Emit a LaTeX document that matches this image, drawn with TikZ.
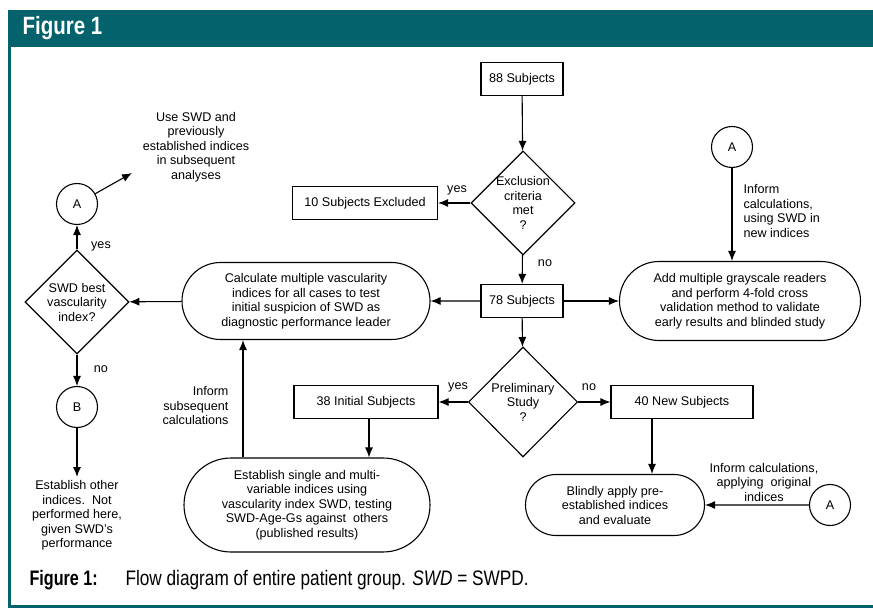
\documentclass[tikz,border=0pt]{standalone}
\usepackage{fontspec}
\setmainfont{Liberation Sans}
\newfontfamily\condfont[FakeStretch=0.82]{Liberation Sans}
\newfontfamily\condlabelfont[FakeStretch=0.77]{Liberation Sans}
\usetikzlibrary{shapes.geometric,shapes.misc,arrows.meta}
\definecolor{figteal}{HTML}{03626C}
\tikzset{>={Latex[length=10pt,width=8pt]}}

\begin{document}
\begin{tikzpicture}[x=1pt,y=-1pt,
  every node/.style={font=\fontsize{12.6}{14.5}\selectfont},
  box/.style={draw,line width=1.1pt,minimum height=33pt,inner sep=4pt},
  pill/.style={draw,line width=1.1pt,rounded rectangle,align=center,inner sep=2pt},
  decision/.style={draw,line width=1.1pt,diamond,minimum width=104pt,minimum height=104pt,
    align=center,inner sep=-3pt},
  conn/.style={draw,line width=1.1pt,circle,minimum size=41pt,inner sep=0pt},
  note/.style={align=center},
  line/.style={->,line width=1.1pt}]
  \useasboundingbox (0,0) rectangle (873,609);
  % frame and header
  \fill[figteal] (8,10) rectangle (873,47);
  \draw[figteal,line width=2.5pt] (9.5,47) -- (9.5,606.5) -- (873,606.5);
  \node[anchor=west,text=white,font=\condfont\bfseries\fontsize{25}{25}\selectfont] (title) at (19,28) {Figure 1};
  % main column
  \node[box,minimum width=82pt] (s88) at (522,79) {88 Subjects};
  \node[decision] (excl) at (523,203) {Exclusion\\criteria\\met\\?};
  \node[box,minimum width=145pt] (s10) at (365,203) {10 Subjects Excluded};
  \node[box,minimum width=82pt] (s78) at (522,301) {78 Subjects};
  \node[pill,minimum width=252pt,minimum height=77pt] (calc) at (306,301)
    {Calculate multiple vascularity\\indices for all cases to test\\initial suspicion of SWD as\\diagnostic performance leader};
  \node[pill,minimum width=245pt,minimum height=79pt] (readers) at (740,301)
    {Add multiple grayscale readers\\and perform 4-fold cross\\validation method to validate\\early results and blinded study};
  \node[conn] (aTop) at (732,147) {A};
  \node[anchor=west,align=left] (usingSWD) at (740,211) {Inform\\calculations,\\using SWD in\\new indices};
  \node (yesExcl) at (457,190) {yes};
  \node (noExcl) at (545,263) {no};
  % left column
  \node[decision,inner sep=-3pt] (best) at (77,302) {SWD best\\vascularity\\index?};
  \node[conn] (aLeft) at (77,204) {A};
  \node[conn] (bLeft) at (77,407) {B};
  \coordinate (useEnd) at (132,173);
  \node[note] (useSWD) at (196,147) {Use SWD and\\previously\\established indices\\in subsequent\\analyses};
  \node[note,anchor=north] (other) at (77,477) {Establish other\\indices.\ \ Not\\performed here,\\given SWD's\\performance};
  \node (yesBest) at (101,246) {yes};
  \node (noBest) at (101,369) {no};
  % lower part
  \node[decision,minimum width=109pt,minimum height=110pt] (prelim) at (523,402) {Preliminary\\Study\\?};
  \node[box,minimum width=144pt] (s38) at (366,402) {38 Initial Subjects};
  \node[box,minimum width=142pt] (s40) at (682,402) {40 New Subjects};
  \node (yesPre) at (458,387) {yes};
  \node (noPre) at (589,387) {no};
  \node[pill,minimum width=250pt,minimum height=94pt] (single) at (307,505)
    {Establish single and multi-\\variable indices using\\vascularity index SWD, testing\\SWD-Age-Gs against\ \ others\\(published results)};
  \node[anchor=east,align=right] (informSub) at (232,406) {Inform\\subsequent\\calculations};
  \node[pill,minimum width=183pt,minimum height=61pt] (blind) at (615,505)
    {Blindly apply pre-\\established indices\\and evaluate};
  \node[conn] (aRight) at (830,505) {A};
  \node[note] (applying) at (764,482) {Inform calculations,\\applying\ \ original\\indices};
  % connectors
  \draw[line] (s88) -- (excl);
  \draw[line] (excl) -- (s10);
  \draw[line] (excl) -- (s78);
  \draw[line] (s78) -- (calc);
  \draw[line] (s78) -- (readers);
  \draw[line] (aTop) -- (readers.north -| aTop);
  \draw[line] (calc) -- (best);
  \draw[line] (best) -- (aLeft);
  \draw[line] (best) -- (bLeft);
  \draw[line] (aLeft) -- (useEnd);
  \draw[line] (bLeft) -- (other);
  \draw[line] (s78) -- (prelim);
  \draw[line] (prelim) -- (s38);
  \draw[line] (prelim) -- (s40);
  \draw[line] ([xshift=3pt]s38.south) -- ([xshift=3pt]s38.south |- single.north);
  \draw[line] ([xshift=-64pt]single.north) -- ([xshift=-64pt]single.north |- calc.south);
  \draw[line] ([xshift=-30pt]s40.south) -- ([xshift=-30pt]s40.south |- blind.north);
  \draw[line] (aRight) -- (blind);
  % caption
  \node[anchor=base west,font=\condlabelfont\bfseries\fontsize{21}{21}\selectfont] (capLabel) at (26,585) {Figure 1:};
  \node[anchor=base west,font=\condfont\fontsize{21}{21}\selectfont] (capText) at (122,585)
    {Flow diagram of entire patient group. \textit{SWD} = SWPD.};
\end{tikzpicture}
\end{document}
